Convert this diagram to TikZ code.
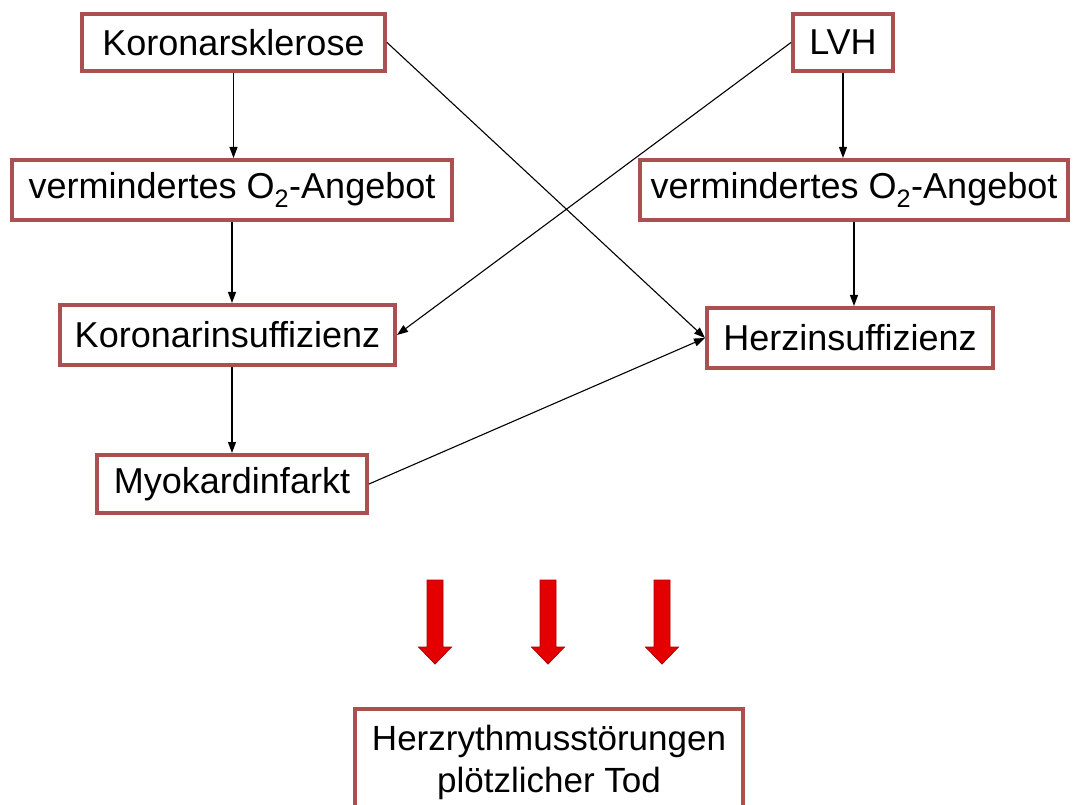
\documentclass[tikz,border=0pt]{standalone}
\usepackage{fontspec}
\setmainfont{Liberation Sans}
\usetikzlibrary{arrows.meta}
\definecolor{rahmen}{RGB}{170,80,80}
\definecolor{pfeilrot}{RGB}{228,0,0}

\begin{document}
\begin{tikzpicture}[x=1pt,y=-1pt,
    kasten/.style={draw=rahmen,line width=4pt,fill=white,minimum height=57pt,
      inner sep=0pt,font=\fontsize{36}{42}\selectfont},
    folge/.style={-{Triangle[length=11pt,width=8pt]},line width=1.1pt}]
    \useasboundingbox (0,0) rectangle (1077,805);
    \clip (0,0) rectangle (1077,805);
    \fill[white] (0,0) rectangle (1077,805);
    % linke Kette
    \node[kasten,minimum width=303pt] (ksk) at (233.5,42.5) {Koronarsklerose};
    \node[kasten,minimum width=440pt,minimum height=60pt] (vol) at (232,190) {vermindertes O\textsubscript{2}-Angebot};
    \node[kasten,minimum width=335pt,minimum height=60pt] (kin) at (227.5,335) {Koronarinsuffizienz};
    \node[kasten,minimum width=270pt,minimum height=58pt] (myo) at (232,484) {Myokardinfarkt};
    % rechte Kette
    \node[kasten,minimum width=100pt] (lvh) at (843,42.5) {LVH};
    \node[kasten,minimum width=428pt,minimum height=60pt] (vor) at (854,190) {vermindertes O\textsubscript{2}-Angebot};
    \node[kasten,minimum width=286pt,minimum height=60pt] (hin) at (850,338) {Herzinsuffizienz};
    % unten
    \node[kasten,minimum width=388pt,minimum height=106pt,anchor=north,align=center,font=\fontsize{35}{42}\selectfont] (tod) at (549,707) {Herzrythmusstörungen\\plötzlicher Tod};
    \draw[folge] (ksk.south) -- (ksk.south |- vol.north);
    \draw[folge] (vol.south) -- (vol.south |- kin.north);
    \draw[folge] (kin.south -| myo.north) -- (myo.north);
    \draw[folge] (lvh.south) -- (lvh.south |- vor.north);
    \draw[folge] (vor.south) -- (vor.south |- hin.north);
    \draw[folge] (ksk.east) -- (hin.west);
    \draw[folge] (lvh.west) -- (kin.east);
    \draw[folge] (myo.east) -- (hin.west);
    \foreach \x in {435,548,662} {
      \filldraw[fill=pfeilrot,draw=pfeilrot!75!black,line width=0.8pt]
        (\x-8,580) -- (\x+8,580) -- (\x+8,647) -- (\x+16.5,647) -- (\x,664)
        -- (\x-16.5,647) -- (\x-8,647) -- cycle;
    };
  \end{tikzpicture}
\end{document}
